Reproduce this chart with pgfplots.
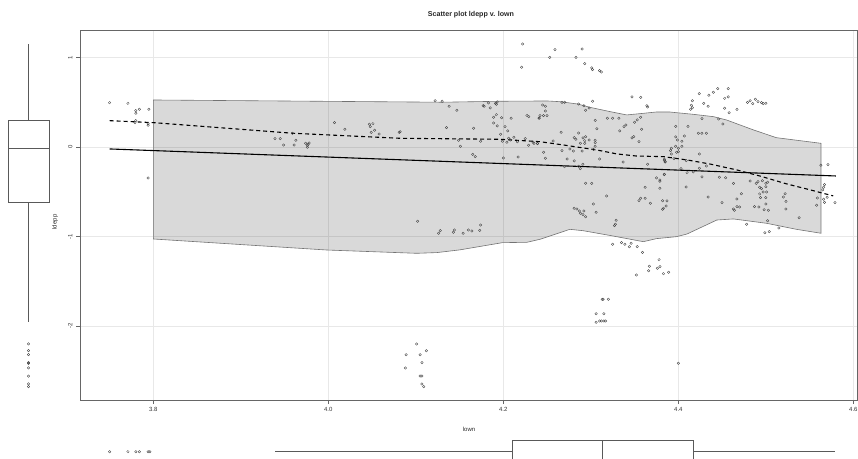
\documentclass[border=0pt]{standalone}
\usepackage{pgfplots}
\pgfplotsset{compat=1.18}
\usepgfplotslibrary{statistics}
\usepackage{fontspec}
\setmainfont{Liberation Sans}
\begin{document}
\begin{tikzpicture}
\pgfplotsset{
  pts/.style={only marks, mark=o, mark size=1.25pt, black!75, mark options={line width=0.35pt}},
}
% ---------------- main scatter plot ----------------
\begin{axis}[
  at={(80pt,58pt)}, anchor=south west, scale only axis,
  width=777pt, height=370pt,
  xmin=3.7162, xmax=4.6042, ymin=-2.827, ymax=1.307,
  xtick={3.8,4.0,4.2,4.4,4.6}, xticklabels={3.8,4.0,4.2,4.4,4.6},
  ytick={-2,-1,0,1}, yticklabels={-2,-1,0,1},
  grid=major, major grid style={black!9, line width=0.8pt},
  axis line style={black!60, line width=0.7pt},
  tick style={black!60, line width=0.6pt}, tick align=outside, major tick length=4pt,
  xtick pos=lower, ytick pos=left,
  ticklabel style={font=\fontsize{6}{7}\selectfont, black!80},
  yticklabel style={rotate=90, anchor=south},
]
% confidence band
\addplot[fill=black, fill opacity=0.15, draw=black!55, line width=0.6pt] coordinates {
(3.800,0.525) (4.130,0.500) (4.198,0.511) (4.250,0.514) (4.265,0.506) (4.285,0.480)
(4.299,0.443) (4.322,0.395) (4.341,0.358) (4.360,0.376) (4.375,0.391) (4.390,0.391)
(4.398,0.383) (4.417,0.365) (4.440,0.339) (4.455,0.302) (4.486,0.190) (4.512,0.104)
(4.563,0.041)
(4.563,-0.964) (4.535,-0.920) (4.501,-0.853) (4.463,-0.804) (4.444,-0.816) (4.410,-0.972)
(4.398,-1.002) (4.375,-1.024) (4.360,-1.058) (4.325,-0.994) (4.291,-0.935) (4.276,-0.920)
(4.242,-1.031) (4.227,-1.065) (4.199,-1.069) (4.150,-1.150) (4.124,-1.180) (4.101,-1.188)
(3.998,-1.151) (3.800,-1.028)
} -- cycle;
% points
\addplot[pts] coordinates {
(3.750,0.495) (3.771,0.488) (3.780,0.406) (3.780,0.377) (3.784,0.421) (3.795,0.421)
(3.780,0.294) (3.779,0.272) (3.794,0.260) (3.794,0.243) (3.794,-0.346) (3.939,0.093)
(3.945,0.093) (3.949,0.022) (3.961,0.022) (3.963,0.075) (3.959,0.153) (3.974,0.041)
(3.976,0.019) (3.976,-0.003) (3.978,0.045) (3.977,0.030) (4.007,0.272) (4.019,0.198)
(4.047,0.254) (4.051,0.260) (4.048,0.227) (4.053,0.187) (4.049,0.164) (4.058,0.145)
(4.081,0.164)
(4.222,1.151) (4.221,0.891) (4.122,0.517) (4.130,0.511) (4.138,0.455) (4.147,0.410)
(4.177,0.462) (4.178,0.455) (4.183,0.492) (4.185,0.436) (4.191,0.488) (4.193,0.503)
(4.192,0.477) (4.192,0.361) (4.189,0.332) (4.198,0.327) (4.209,0.321) (4.189,0.268)
(4.193,0.235) (4.202,0.227) (4.205,0.179) (4.197,0.142) (4.135,0.216) (4.166,0.209)
(4.082,0.171) (4.149,0.075) (4.151,0.008) (4.174,0.064) (4.199,0.064) (4.206,0.097)
(4.208,0.078) (4.212,0.108) (4.204,0.053) (4.216,0.059) (4.225,0.093) (4.229,0.019)
(4.235,0.041) (4.239,0.037) (4.227,0.354) (4.229,0.339) (4.241,0.321) (4.165,-0.082)
(4.168,-0.108) (4.200,-0.123) (4.217,-0.112)
(4.259,1.087) (4.290,1.095) (4.253,1.002) (4.283,1.002) (4.293,0.931) (4.301,0.883)
(4.302,0.864) (4.310,0.853) (4.312,0.838) (4.302,0.511) (4.347,0.559) (4.357,0.555)
(4.364,0.461) (4.365,0.447) (4.245,0.469) (4.248,0.455) (4.248,0.402) (4.267,0.499)
(4.270,0.499) (4.286,0.480) (4.292,0.461) (4.298,0.436) (4.294,0.410) (4.242,0.350)
(4.241,0.324) (4.246,0.350) (4.250,0.350) (4.305,0.298) (4.319,0.321) (4.325,0.321)
(4.332,0.321) (4.307,0.204) (4.266,0.164) (4.286,0.156) (4.281,0.104) (4.283,0.086)
(4.291,0.101) (4.294,0.115) (4.293,0.070) (4.298,0.078) (4.288,0.041) (4.293,0.041)
(4.305,0.075) (4.305,0.048) (4.305,0.008) (4.234,0.053) (4.239,0.041) (4.257,0.067)
(4.276,-0.022) (4.267,-0.041) (4.280,-0.045) (4.290,-0.045) (4.303,-0.026) (4.246,-0.059)
(4.248,-0.126) (4.273,-0.134) (4.281,-0.156) (4.286,-0.216) (4.288,-0.242) (4.291,-0.193)
(4.310,-0.134) (4.270,-0.220) (4.333,0.179) (4.338,0.227) (4.340,0.246) (4.350,0.276)
(4.353,0.302) (4.357,0.332) (4.358,0.198) (4.347,0.101) (4.349,0.115) (4.355,0.059)
(4.337,-0.168) (4.365,-0.193) (4.384,-0.149) (4.385,-0.168) (4.384,-0.305) (4.375,-0.346)
(4.379,-0.383) (4.362,-0.450) (4.379,-0.461) (4.294,-0.406) (4.301,-0.406) (4.318,-0.547)
(4.303,-0.637) (4.281,-0.685) (4.362,-0.573) (4.357,-0.573) (4.355,-0.600) (4.368,-0.629)
(4.387,-0.603) (4.383,-0.685)
(4.424,0.596) (4.435,0.578) (4.440,0.611) (4.445,0.651) (4.457,0.651) (4.453,0.544)
(4.457,0.559) (4.416,0.517) (4.415,0.466) (4.416,0.439) (4.414,0.421) (4.429,0.488)
(4.434,0.455) (4.453,0.433) (4.458,0.383) (4.467,0.421) (4.479,0.499) (4.482,0.517)
(4.488,0.533) (4.491,0.506) (4.485,0.484) (4.495,0.495) (4.497,0.484) (4.500,0.488)
(4.427,0.316) (4.446,0.313) (4.451,0.257) (4.397,0.231) (4.411,0.231) (4.423,0.153)
(4.427,0.153) (4.432,0.153) (4.407,0.123) (4.397,0.112) (4.399,0.078) (4.404,0.064)
(4.397,0.008) (4.404,0.008) (4.400,-0.015) (4.392,-0.015) (4.391,-0.041) (4.398,-0.059)
(4.400,-0.053) (4.392,-0.078) (4.424,-0.078) (4.384,-0.137) (4.385,-0.164) (4.395,-0.131)
(4.409,-0.153) (4.432,-0.212) (4.424,-0.238) (4.403,-0.242) (4.410,-0.287) (4.417,-0.279)
(4.384,-0.309) (4.427,-0.335) (4.447,-0.338) (4.454,-0.343) (4.463,-0.406) (4.482,-0.380)
(4.489,-0.406) (4.491,-0.388) (4.496,-0.377) (4.500,-0.406) (4.502,-0.394) (4.493,-0.450)
(4.495,-0.466) (4.500,-0.444) (4.409,-0.447) (4.493,-0.525) (4.497,-0.503) (4.501,-0.503)
(4.500,-0.566) (4.494,-0.566) (4.472,-0.522) (4.434,-0.559) (4.467,-0.581) (4.450,-0.622)
(4.467,-0.667) (4.470,-0.670) (4.463,-0.693) (4.464,-0.707) (4.487,-0.667) (4.492,-0.670)
(4.500,-0.637) (4.498,-0.701) (4.503,-0.707) (4.520,-0.559) (4.523,-0.607) (4.522,-0.522)
(4.523,-0.693) (4.538,-0.790) (4.502,-0.824) (4.478,-0.864) (4.515,-0.905) (4.499,-0.958)
(4.504,-0.946) (4.382,-0.600) (4.386,-0.659) (4.382,-0.696) (4.379,-0.369) (4.563,-0.204)
(4.571,-0.198) (4.567,-0.421) (4.566,-0.450) (4.565,-0.480) (4.570,-0.562) (4.559,-0.570)
(4.566,-0.584) (4.567,-0.618) (4.558,-0.651) (4.579,-0.622)
(4.306,-0.730) (4.284,-0.693) (4.287,-0.715) (4.288,-0.741) (4.292,-0.715) (4.291,-0.756)
(4.294,-0.779) (4.329,-0.819) (4.328,-0.864) (4.327,-0.879) (4.325,-1.087) (4.335,-1.069)
(4.339,-1.087) (4.344,-1.114) (4.346,-1.076) (4.353,-1.114) (4.359,-1.177) (4.378,-1.259)
(4.367,-1.333) (4.366,-1.382) (4.376,-1.355) (4.379,-1.337) (4.383,-1.416) (4.389,-1.400)
(4.352,-1.430) (4.313,-1.702) (4.314,-1.702) (4.320,-1.702) (4.306,-1.863) (4.315,-1.863)
(4.306,-1.959) (4.310,-1.944) (4.312,-1.944) (4.315,-1.944) (4.317,-1.944) (4.400,-2.417)
(4.102,-0.830) (4.126,-0.964) (4.128,-0.935) (4.143,-0.953) (4.144,-0.927) (4.154,-0.964)
(4.160,-0.927) (4.164,-0.938) (4.173,-0.931) (4.174,-0.872)
(4.101,-2.201) (4.089,-2.321) (4.105,-2.321) (4.112,-2.276) (4.107,-2.410) (4.088,-2.469)
(4.105,-2.559) (4.107,-2.559) (4.107,-2.648) (4.109,-2.678)
};
% linear regression line
\addplot[black, line width=1.1pt] coordinates {(3.750,-0.022) (4.580,-0.324)};
% smoother
\addplot[black, line width=1.1pt, dash pattern=on 4pt off 3pt] coordinates {
(3.750,0.294) (3.800,0.272) (3.960,0.153) (4.082,0.097) (4.196,0.086) (4.242,0.059)
(4.269,0.022) (4.307,-0.034) (4.330,-0.078) (4.352,-0.101) (4.383,-0.108) (4.410,-0.145)
(4.436,-0.190) (4.467,-0.257) (4.493,-0.324) (4.524,-0.413) (4.551,-0.480) (4.577,-0.547)
};
\end{axis}
% ---------------- left marginal boxplot ----------------
\begin{axis}[
  at={(0pt,58pt)}, anchor=south west, scale only axis,
  width=57pt, height=370pt, xmin=0, xmax=57, ymin=-2.827, ymax=1.307,
  hide axis, clip=false,
]
\addplot[black!65, line width=0.7pt, boxplot/draw direction=y,
  boxplot prepared={lower whisker=-1.955, lower quartile=-0.615, median=-0.011,
    upper quartile=0.302, upper whisker=1.151, draw position=28.5, box extend=41,
    whisker extend=0}] coordinates {};
\addplot[pts] coordinates {
(28.5,-2.201) (28.5,-2.276) (28.5,-2.321) (28.5,-2.410) (28.5,-2.417) (28.5,-2.469)
(28.5,-2.559) (28.5,-2.648) (28.5,-2.678)
};
\end{axis}
% ---------------- bottom marginal boxplot ----------------
\begin{axis}[
  at={(80pt,-5.7pt)}, anchor=south west, scale only axis,
  width=777pt, height=24pt, xmin=3.7162, xmax=4.6042, ymin=-12, ymax=12,
  hide axis, clip=false,
]
\addplot[black!65, line width=0.7pt, boxplot/draw direction=x,
  boxplot prepared={lower whisker=3.939, lower quartile=4.210, median=4.313,
    upper quartile=4.417, upper whisker=4.579, draw position=0, box extend=22,
    whisker extend=0}] coordinates {};
\addplot[pts] coordinates {
(3.750,0) (3.771,0) (3.780,0) (3.784,0) (3.794,0) (3.796,0)
};
\end{axis}
% ---------------- titles and labels ----------------
\node[font=\bfseries\fontsize{7.1}{8.5}\selectfont, black!85] at (471pt,443pt) {Scatter plot ldepp v. lown};
\node[font=\fontsize{6}{7}\selectfont, black!85] at (469pt,29pt) {lown};
\node[font=\fontsize{6}{7}\selectfont, black!85, rotate=90] at (55pt,236pt) {ldepp};
\pgfresetboundingbox
\path[use as bounding box] (0pt,0pt) rectangle (858pt,458pt);
\end{tikzpicture}
\end{document}
